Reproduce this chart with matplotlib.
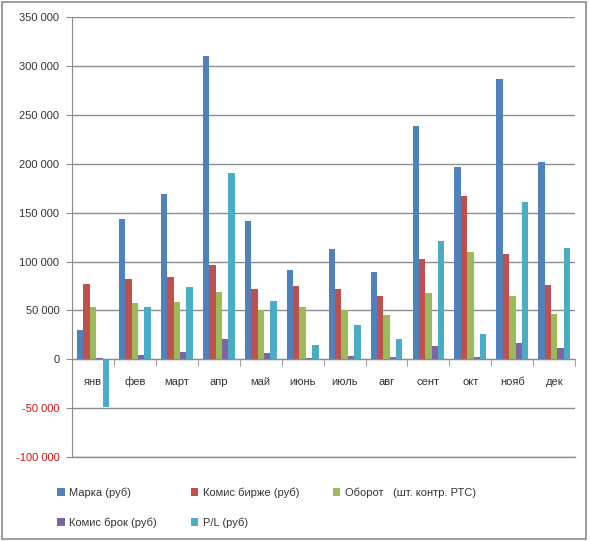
import numpy as np
import matplotlib
matplotlib.use('Agg')
import matplotlib.pyplot as plt
from matplotlib.ticker import FuncFormatter, FixedLocator

plt.rcParams['font.family'] = ['Liberation Sans', 'DejaVu Sans']

months = ['янв', 'фев', 'март', 'апр', 'май', 'июнь', 'июль', 'авг', 'сент', 'окт', 'нояб', 'дек']

marzha = [30000, 143000, 169000, 310000, 141000, 91000, 113000, 89000, 239000, 197000, 287000, 202000]
komis_birzhe = [77000, 82000, 84500, 96500, 72000, 74500, 72000, 65000, 103000, 167000, 108000, 76500]
oborot = [54000, 58000, 59000, 68500, 50000, 53000, 50000, 45000, 68000, 110000, 65000, 46500]
komis_brok = [1500, 4700, 7400, 21000, 6400, 1500, 3700, 2000, 13500, 2000, 16800, 11800]
pl = [-48500, 53000, 73500, 190500, 60000, 14500, 35500, 21000, 120500, 25700, 160500, 113500]

series = [
    ('Марка (руб)', marzha, '#4F81BD'),
    ('Комис бирже (руб)', komis_birzhe, '#C0504D'),
    ('Оборот   (шт. контр. РТС)', oborot, '#9BBB59'),
    ('Комис брок (руб)', komis_brok, '#8064A2'),
    ('P/L (руб)', pl, '#4BACC6'),
]

fig = plt.figure(figsize=(5.9, 5.41), dpi=100)
ax = fig.add_axes([0.122, 0.155, 0.853, 0.8136])

x = np.arange(len(months))
w = 0.152
handles = {}
for i, (name, vals, col) in enumerate(series):
    b = ax.bar(x + (i - 2) * w, vals, width=w, color=col, label=name, zorder=3)
    handles[name] = b

ax.set_xlim(-0.5, len(months) - 0.5)
ax.set_ylim(-100000, 350000)
ax.set_yticks(np.arange(-100000, 350001, 50000))

def fmt(v, pos):
    return f'{int(v):,}'.replace(',', ' ')

ax.yaxis.set_major_formatter(FuncFormatter(fmt))
ax.grid(axis='y', color='#8c8c8c', linewidth=1, zorder=0)
# нижняя линия сетки на краю осей
ax.axhline(-100000, color='#8c8c8c', linewidth=1, clip_on=False, zorder=0)
ax.tick_params(axis='y', length=4, color='#8c8c8c', labelsize=8, labelcolor='#333333', pad=5)
for lbl in ax.get_yticklabels():
    if lbl.get_text().startswith('-'):
        lbl.set_color('#e01010')

for s in ['top', 'right']:
    ax.spines[s].set_visible(False)
ax.spines['left'].set_color('#8c8c8c')
ax.spines['bottom'].set_position(('data', 0))
ax.spines['bottom'].set_color('#8c8c8c')
ax.spines['bottom'].set_zorder(4)

ax.set_xticks(x)
ax.set_xticklabels(months)
ax.xaxis.set_minor_locator(FixedLocator(np.arange(-0.5, len(months), 1)))
ax.tick_params(axis='x', which='major', length=0, pad=18.5, labelsize=8, labelcolor='#333333')
ax.tick_params(axis='x', which='minor', length=5, color='#8c8c8c', direction='out')
for lbl in ax.get_xticklabels():
    lbl.set_va('baseline')

order = ['Марка (руб)', 'Комис брок (руб)', 'Комис бирже (руб)', 'P/L (руб)', 'Оборот   (шт. контр. РТС)']
fig.legend([handles[n] for n in order], order, ncol=3, loc='upper left',
           bbox_to_anchor=(0.08, 0.118), frameon=False, fontsize=8,
           handlelength=0.7, handleheight=0.7, handletextpad=0.4,
           columnspacing=3.0, labelspacing=1.8, labelcolor='#333333')

fig.patches.append(plt.Rectangle((0.004, 0.004), 0.99, 0.992, transform=fig.transFigure,
                                 fill=False, edgecolor='#8c8c8c', linewidth=1.2))

fig.savefig('out.png', dpi=100)
